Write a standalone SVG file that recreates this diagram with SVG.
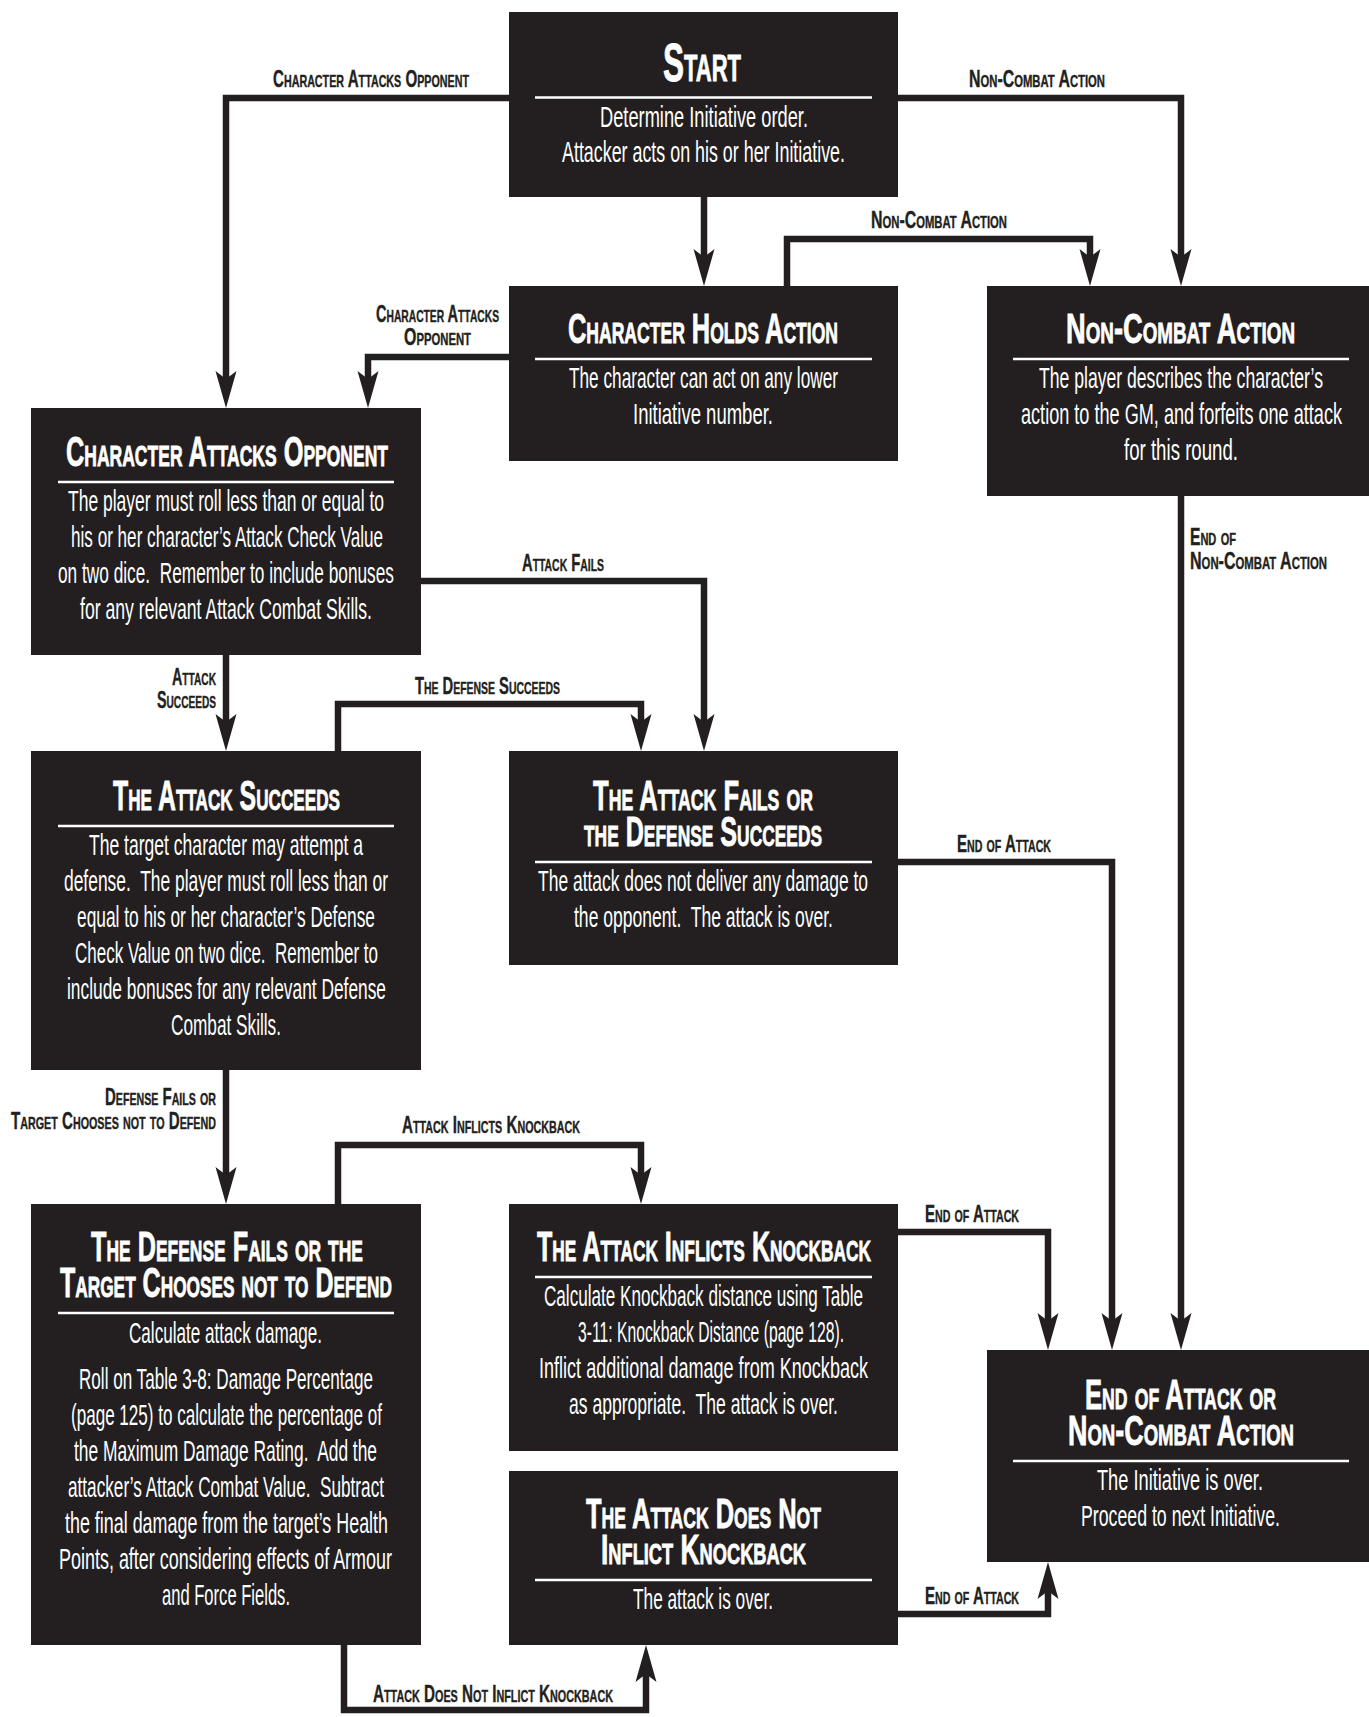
<svg xmlns="http://www.w3.org/2000/svg" width="1369" height="1717" viewBox="0 0 1369 1717">
<style>
.box{fill:#231f20}
.div{stroke:#fff;stroke-width:2.5}
.t{font-family:"Liberation Sans Narrow","Liberation Sans",Arial,sans-serif;font-weight:bold;font-variant:small-caps;font-size:42px;fill:#fff;stroke:#fff;stroke-width:0.8;white-space:pre}
.b{font-family:"Liberation Sans Narrow","Liberation Sans",Arial,sans-serif;font-size:30px;fill:#fff;white-space:pre}
.l{font-family:"Liberation Sans Narrow","Liberation Sans",Arial,sans-serif;font-weight:bold;font-variant:small-caps;font-size:24px;fill:#231f20;stroke:#231f20;stroke-width:0.4;white-space:pre}
.c{fill:none;stroke:#231f20;stroke-width:6.5;stroke-linejoin:miter;stroke-linecap:butt}
</style>
<defs>
<marker id="ah" markerUnits="userSpaceOnUse" markerWidth="40" markerHeight="22" refX="22" refY="10.5" orient="auto" overflow="visible">
<path d="M0,0 L37,10.5 L0,21 L8,10.5 z" fill="#231f20"/>
</marker>
</defs>
<g id="connectors">
<path class="c" d="M509,98 H226 V393" marker-end="url(#ah)"/>
<path class="c" d="M704,197 V271" marker-end="url(#ah)"/>
<path class="c" d="M898,98 H1181 V271" marker-end="url(#ah)"/>
<path class="c" d="M787,286 V239 H1090 V271" marker-end="url(#ah)"/>
<path class="c" d="M509,357 H368 V393" marker-end="url(#ah)"/>
<path class="c" d="M421,581 H704 V736" marker-end="url(#ah)"/>
<path class="c" d="M226,655 V736" marker-end="url(#ah)"/>
<path class="c" d="M338,751 V704 H641 V736" marker-end="url(#ah)"/>
<path class="c" d="M898,862 H1112 V1335" marker-end="url(#ah)"/>
<path class="c" d="M1181,496 V1335" marker-end="url(#ah)"/>
<path class="c" d="M226,1070 V1189" marker-end="url(#ah)"/>
<path class="c" d="M338,1204 V1145 H641 V1189" marker-end="url(#ah)"/>
<path class="c" d="M898,1232 H1048 V1335" marker-end="url(#ah)"/>
<path class="c" d="M344,1645 V1710 H646 V1660" marker-end="url(#ah)"/>
<path class="c" d="M898,1614 H1048 V1577" marker-end="url(#ah)"/>
<text class="l" x="273" y="87" textLength="196" lengthAdjust="spacingAndGlyphs">Character Attacks Opponent</text>
<text class="l" x="969" y="87" textLength="136" lengthAdjust="spacingAndGlyphs">Non-Combat Action</text>
<text class="l" x="871" y="228" textLength="136" lengthAdjust="spacingAndGlyphs">Non-Combat Action</text>
<text class="l" x="376" y="322" textLength="123" lengthAdjust="spacingAndGlyphs">Character Attacks</text>
<text class="l" x="404" y="345" textLength="67" lengthAdjust="spacingAndGlyphs">Opponent</text>
<text class="l" x="522" y="571" textLength="82" lengthAdjust="spacingAndGlyphs">Attack Fails</text>
<text class="l" x="172" y="685" textLength="44" lengthAdjust="spacingAndGlyphs">Attack</text>
<text class="l" x="157" y="708" textLength="59" lengthAdjust="spacingAndGlyphs">Succeeds</text>
<text class="l" x="415" y="694" textLength="145" lengthAdjust="spacingAndGlyphs">The Defense Succeeds</text>
<text class="l" x="957" y="852" textLength="94" lengthAdjust="spacingAndGlyphs">End of Attack</text>
<text class="l" x="1190" y="545" textLength="46" lengthAdjust="spacingAndGlyphs">End of</text>
<text class="l" x="1190" y="569" textLength="137" lengthAdjust="spacingAndGlyphs">Non-Combat Action</text>
<text class="l" x="105" y="1105" textLength="111" lengthAdjust="spacingAndGlyphs">Defense Fails or</text>
<text class="l" x="11" y="1129" textLength="205" lengthAdjust="spacingAndGlyphs">Target Chooses not to Defend</text>
<text class="l" x="402" y="1133" textLength="178" lengthAdjust="spacingAndGlyphs">Attack Inflicts Knockback</text>
<text class="l" x="925" y="1222" textLength="94" lengthAdjust="spacingAndGlyphs">End of Attack</text>
<text class="l" x="373" y="1702" textLength="240" lengthAdjust="spacingAndGlyphs">Attack Does Not Inflict Knockback</text>
<text class="l" x="925" y="1604" textLength="94" lengthAdjust="spacingAndGlyphs">End of Attack</text>
</g>
<g id="start">
<rect class="box" x="509" y="12" width="389" height="185"/>
<line class="div" x1="535" y1="97.5" x2="872" y2="97.5"/>
<text class="t" x="663" y="80.5" textLength="78" lengthAdjust="spacingAndGlyphs" style="font-size:53px">Start</text>
<text class="b" x="600" y="127" textLength="208" lengthAdjust="spacingAndGlyphs">Determine Initiative order.</text>
<text class="b" x="562" y="162" textLength="283" lengthAdjust="spacingAndGlyphs">Attacker acts on his or her Initiative.</text>
</g>
<g id="holds-action">
<rect class="box" x="509" y="286" width="389" height="175"/>
<line class="div" x1="535" y1="359" x2="872" y2="359"/>
<text class="t" x="568" y="343" textLength="270" lengthAdjust="spacingAndGlyphs">Character Holds Action</text>
<text class="b" x="569" y="388" textLength="269" lengthAdjust="spacingAndGlyphs">The character can act on any lower</text>
<text class="b" x="633" y="424" textLength="140" lengthAdjust="spacingAndGlyphs">Initiative number.</text>
</g>
<g id="non-combat-action">
<rect class="box" x="987" y="286" width="382" height="210"/>
<line class="div" x1="1013" y1="359" x2="1349" y2="359"/>
<text class="t" x="1066" y="343" textLength="229" lengthAdjust="spacingAndGlyphs">Non-Combat Action</text>
<text class="b" x="1039" y="388" textLength="284" lengthAdjust="spacingAndGlyphs">The player describes the character’s</text>
<text class="b" x="1021" y="424" textLength="321" lengthAdjust="spacingAndGlyphs">action to the GM, and forfeits one attack</text>
<text class="b" x="1124" y="460" textLength="114" lengthAdjust="spacingAndGlyphs">for this round.</text>
</g>
<g id="attacks-opponent">
<rect class="box" x="31" y="408" width="390" height="247"/>
<line class="div" x1="58" y1="482" x2="394" y2="482"/>
<text class="t" x="66" y="466" textLength="322" lengthAdjust="spacingAndGlyphs">Character Attacks Opponent</text>
<text class="b" x="68" y="511" textLength="316" lengthAdjust="spacingAndGlyphs">The player must roll less than or equal to</text>
<text class="b" x="71" y="547" textLength="312" lengthAdjust="spacingAndGlyphs">his or her character’s Attack Check Value</text>
<text class="b" x="58" y="583" textLength="336" lengthAdjust="spacingAndGlyphs">on two dice.  Remember to include bonuses</text>
<text class="b" x="80" y="619" textLength="292" lengthAdjust="spacingAndGlyphs">for any relevant Attack Combat Skills.</text>
</g>
<g id="attack-succeeds">
<rect class="box" x="31" y="751" width="390" height="319"/>
<line class="div" x1="58" y1="826" x2="394" y2="826"/>
<text class="t" x="113" y="810" textLength="227" lengthAdjust="spacingAndGlyphs">The Attack Succeeds</text>
<text class="b" x="89" y="855" textLength="274" lengthAdjust="spacingAndGlyphs">The target character may attempt a</text>
<text class="b" x="64" y="891" textLength="324" lengthAdjust="spacingAndGlyphs">defense.  The player must roll less than or</text>
<text class="b" x="77" y="927" textLength="298" lengthAdjust="spacingAndGlyphs">equal to his or her character’s Defense</text>
<text class="b" x="75" y="963" textLength="303" lengthAdjust="spacingAndGlyphs">Check Value on two dice.  Remember to</text>
<text class="b" x="67" y="999" textLength="319" lengthAdjust="spacingAndGlyphs">include bonuses for any relevant Defense</text>
<text class="b" x="171" y="1035" textLength="110" lengthAdjust="spacingAndGlyphs">Combat Skills.</text>
</g>
<g id="attack-fails">
<rect class="box" x="509" y="751" width="389" height="214"/>
<line class="div" x1="535" y1="862" x2="872" y2="862"/>
<text class="t" x="593" y="810" textLength="220" lengthAdjust="spacingAndGlyphs">The Attack Fails or</text>
<text class="t" x="584" y="846" textLength="238" lengthAdjust="spacingAndGlyphs">the Defense Succeeds</text>
<text class="b" x="538" y="891" textLength="330" lengthAdjust="spacingAndGlyphs">The attack does not deliver any damage to</text>
<text class="b" x="574" y="927" textLength="259" lengthAdjust="spacingAndGlyphs">the opponent.  The attack is over.</text>
</g>
<g id="defense-fails">
<rect class="box" x="31" y="1204" width="390" height="441"/>
<line class="div" x1="58" y1="1313" x2="394" y2="1313"/>
<text class="t" x="91" y="1261" textLength="272" lengthAdjust="spacingAndGlyphs">The Defense Fails or the</text>
<text class="t" x="60" y="1297" textLength="332" lengthAdjust="spacingAndGlyphs">Target Chooses not to Defend</text>
<text class="b" x="129" y="1343" textLength="193" lengthAdjust="spacingAndGlyphs">Calculate attack damage.</text>
<text class="b" x="79" y="1389" textLength="294" lengthAdjust="spacingAndGlyphs">Roll on Table 3-8: Damage Percentage</text>
<text class="b" x="71" y="1425" textLength="311" lengthAdjust="spacingAndGlyphs">(page 125) to calculate the percentage of</text>
<text class="b" x="74" y="1461" textLength="303" lengthAdjust="spacingAndGlyphs">the Maximum Damage Rating.  Add the</text>
<text class="b" x="68" y="1497" textLength="316" lengthAdjust="spacingAndGlyphs">attacker’s Attack Combat Value.  Subtract</text>
<text class="b" x="65" y="1533" textLength="323" lengthAdjust="spacingAndGlyphs">the final damage from the target’s Health</text>
<text class="b" x="59" y="1569" textLength="333" lengthAdjust="spacingAndGlyphs">Points, after considering effects of Armour</text>
<text class="b" x="162" y="1605" textLength="128" lengthAdjust="spacingAndGlyphs">and Force Fields.</text>
</g>
<g id="inflicts-knockback">
<rect class="box" x="509" y="1204" width="389" height="247"/>
<line class="div" x1="535" y1="1277" x2="872" y2="1277"/>
<text class="t" x="537" y="1261" textLength="334" lengthAdjust="spacingAndGlyphs">The Attack Inflicts Knockback</text>
<text class="b" x="544" y="1306" textLength="319" lengthAdjust="spacingAndGlyphs">Calculate Knockback distance using Table</text>
<text class="b" x="578" y="1342" textLength="266" lengthAdjust="spacingAndGlyphs">3-11: Knockback Distance (page 128).</text>
<text class="b" x="539" y="1378" textLength="329" lengthAdjust="spacingAndGlyphs">Inflict additional damage from Knockback</text>
<text class="b" x="569" y="1414" textLength="269" lengthAdjust="spacingAndGlyphs">as appropriate.  The attack is over.</text>
</g>
<g id="no-knockback">
<rect class="box" x="509" y="1471" width="389" height="174"/>
<line class="div" x1="535" y1="1580" x2="872" y2="1580"/>
<text class="t" x="586" y="1528" textLength="235" lengthAdjust="spacingAndGlyphs">The Attack Does Not</text>
<text class="t" x="601" y="1564" textLength="205" lengthAdjust="spacingAndGlyphs">Inflict Knockback</text>
<text class="b" x="633" y="1609" textLength="140" lengthAdjust="spacingAndGlyphs">The attack is over.</text>
</g>
<g id="end">
<rect class="box" x="987" y="1350" width="382" height="212"/>
<line class="div" x1="1013" y1="1461" x2="1349" y2="1461"/>
<text class="t" x="1085" y="1409" textLength="191" lengthAdjust="spacingAndGlyphs">End of Attack or</text>
<text class="t" x="1068" y="1445" textLength="226" lengthAdjust="spacingAndGlyphs">Non-Combat Action</text>
<text class="b" x="1097" y="1490" textLength="166" lengthAdjust="spacingAndGlyphs">The Initiative is over.</text>
<text class="b" x="1081" y="1526" textLength="199" lengthAdjust="spacingAndGlyphs">Proceed to next Initiative.</text>
</g>
</svg>
